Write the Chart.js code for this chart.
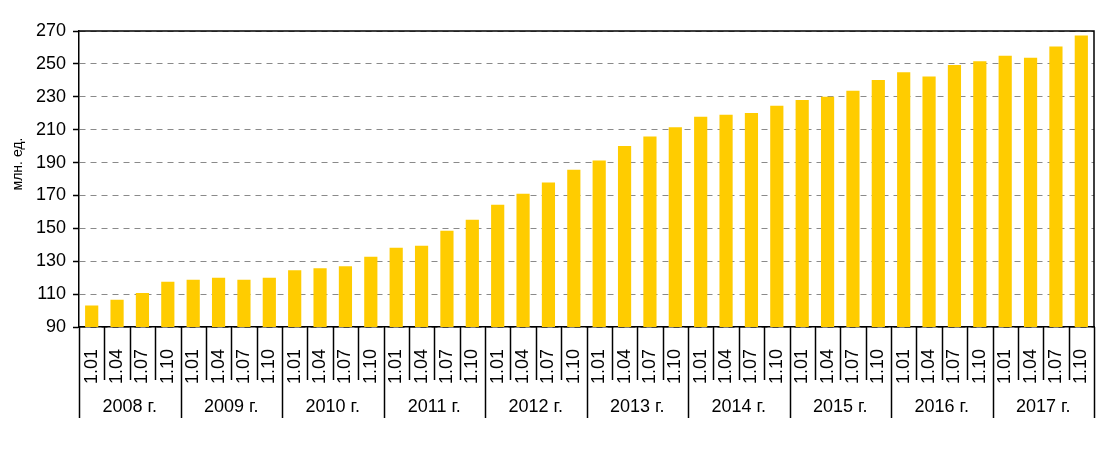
<!DOCTYPE html>
<html>
<head>
<meta charset="utf-8">
<title>млн. ед.</title>
<script src="https://cdn.jsdelivr.net/npm/chart.js@4/dist/chart.umd.min.js"></script>
<style>
  html, body { margin: 0; padding: 0; background: #fff; }
  canvas { display: block; }
</style>
</head>
<body>
<canvas id="chart" width="1108" height="450"></canvas>
<script>
// Data
const years = ['2008 г.', '2009 г.', '2010 г.', '2011 г.', '2012 г.', '2013 г.', '2014 г.', '2015 г.', '2016 г.', '2017 г.'];
const quarters = ['1.01', '1.04', '1.07', '1.10'];
const values = [
    103, 106.5, 110.7, 117.5,
    118.7, 119.9, 118.7, 119.9,
    124.5, 125.7, 126.9, 132.7,
    138.2, 139.4, 148.5, 155.2,
    164.3, 171, 177.8, 185.7,
    191.2, 200.1, 205.8, 211.4,
    217.9, 219.1, 220.1, 224.6,
    228, 230, 233.7, 240.2,
    244.9, 242.4, 249.3, 251.6,
    255, 253.8, 260.5, 267.2
];
const yMin = 90, yMax = 270, yStep = 20;
const yTitle = 'млн. ед.';

// one label per quarter, year by year
const labels = [];
years.forEach(() => quarters.forEach(q => labels.push(q)));

Chart.defaults.font.family = "'Liberation Sans', Arial, sans-serif";
Chart.defaults.color = '#000';

// frame, separators under the axis, year captions and the axis title
const axisDecor = {
    id: 'axisDecor',
    afterDraw(chart) {
        const { ctx, chartArea: a, scales: { x } } = chart;
        const half = (x.getPixelForValue(1) - x.getPixelForValue(0)) / 2;
        ctx.save();
        ctx.strokeStyle = '#000';
        ctx.lineWidth = 1.5;
        ctx.beginPath();
        ctx.moveTo(a.left, a.top);
        ctx.lineTo(a.right, a.top);
        ctx.lineTo(a.right, a.bottom);
        ctx.stroke();

        for (let i = 0; i <= labels.length; i++) {
            const px = Math.round(x.getPixelForValue(i) - half) + 0.5;
            const yearEdge = i % quarters.length === 0;
            ctx.beginPath();
            ctx.moveTo(px, a.bottom);
            ctx.lineTo(px, a.bottom + (yearEdge ? 91 : 53));
            ctx.stroke();
        }

        ctx.fillStyle = '#000';
        ctx.font = "18px 'Liberation Sans', Arial, sans-serif";
        ctx.textAlign = 'center';
        ctx.textBaseline = 'middle';
        years.forEach((yr, j) => {
            const first = x.getPixelForValue(j * quarters.length);
            const last = x.getPixelForValue(j * quarters.length + quarters.length - 1);
            ctx.fillText(yr, (first + last) / 2, a.bottom + 80);
        });

        // y axis title, a bit above the middle as in the original
        ctx.translate(18, 164);
        ctx.rotate(-Math.PI / 2);
        ctx.font = "14px 'Liberation Sans', Arial, sans-serif";
        ctx.fillText(yTitle, 0, 0);
        ctx.restore();
    }
};

new Chart(document.getElementById('chart').getContext('2d'), {
    type: 'bar',
    data: {
        labels: labels,
        datasets: [{
            data: values,
            backgroundColor: '#FFCC00',
            borderWidth: 0,
            barPercentage: 0.52,
            categoryPercentage: 1
        }]
    },
    options: {
        responsive: false,
        animation: false,
        layout: { padding: { top: 31, right: 14, left: 0, bottom: 0 } },
        plugins: {
            legend: { display: false },
            tooltip: { enabled: false }
        },
        scales: {
            x: {
                grid: { display: false },
                border: { display: true, color: '#000', width: 1.5 },
                ticks: {
                    autoSkip: false,
                    minRotation: 90,
                    maxRotation: 90,
                    padding: 14,
                    font: { size: 18 },
                    color: '#000'
                },
                afterFit: s => {
                    s.height = 123;
                    s.paddingLeft = 0;
                    s.paddingRight = 0;
                }
            },
            y: {
                min: yMin,
                max: yMax,
                ticks: {
                    stepSize: yStep,
                    padding: 7,
                    font: { size: 18 },
                    color: '#000'
                },
                grid: {
                    color: '#8a8a8a',
                    lineWidth: 1,
                    tickLength: 6,
                    tickColor: '#000',
                    tickWidth: 1.5,
                    tickBorderDash: []
                },
                border: { display: true, color: '#000', width: 1.5, dash: [6, 5] },
                afterFit: s => { s.width = 79; }
            }
        }
    },
    plugins: [axisDecor]
});
</script>
</body>
</html>
